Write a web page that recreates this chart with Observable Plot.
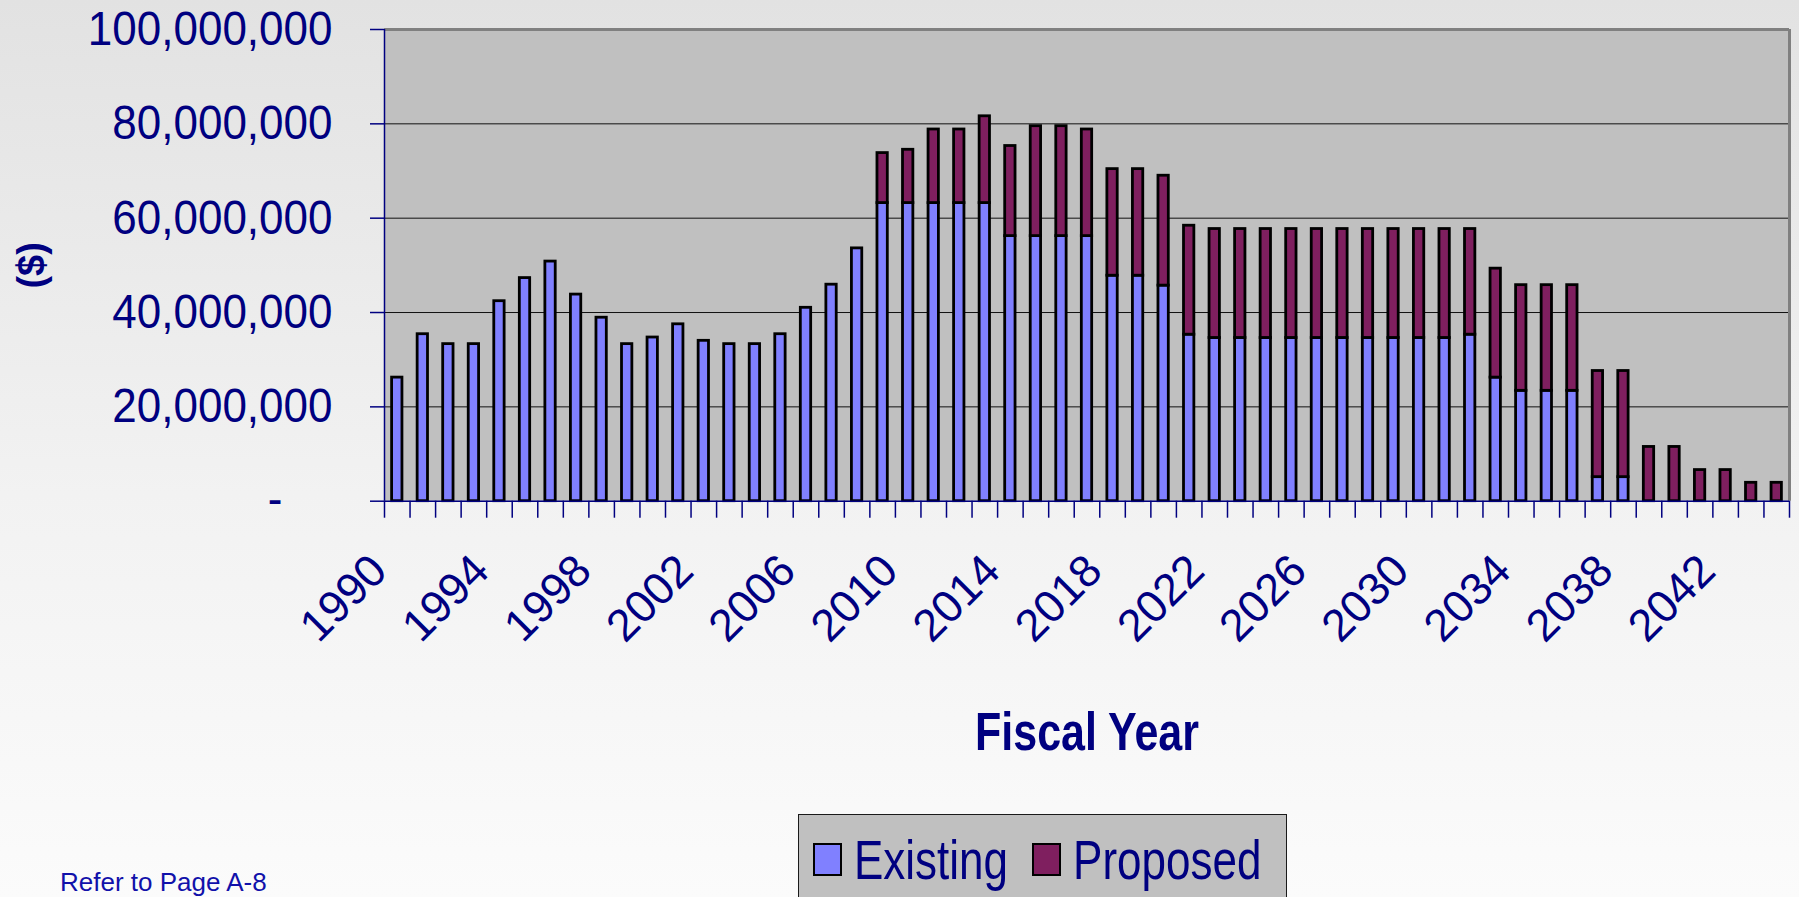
<!DOCTYPE html>
<html>
<head>
<meta charset="utf-8">
<script src="https://cdn.jsdelivr.net/npm/d3@7"></script>
<script src="https://cdn.jsdelivr.net/npm/@observablehq/plot@0.6"></script>
<style>
  html, body { margin: 0; padding: 0; width: 1799px; height: 897px; overflow: hidden; }
  body {
    position: relative;
    background: linear-gradient(to bottom, #e2e2e2 0%, #f2f2f2 55%, #fbfbfb 100%);
    font-family: "Liberation Sans", Arial, sans-serif;
  }
  #chart { position: absolute; left: 0; top: 0; }
  #legend {
    position: absolute; left: 798px; top: 814px; width: 489px; height: 140px;
    background: #c0c0c0; border: 1px solid #1a1a1a; box-sizing: border-box;
    display: flex; align-items: flex-start; padding: 28px 0 0 14px;
  }
  #legend .sw { flex: none; width: 29px; height: 33px; box-sizing: border-box; border: 2.5px solid #000; margin-right: 12px; }
  #legend .lt {
    flex: none; font-size: 44px; line-height: 33px; height: 33px; color: #000080;
    margin-right: 24px; white-space: nowrap; display: inline-block;
    transform: scaleY(1.25); transform-origin: 50% 50%;
  }
  #note { position: absolute; left: 60px; top: 869px; font-size: 26px; line-height: 26px; color: #1111aa; white-space: nowrap; }
</style>
</head>
<body>
<div id="chart"></div>
<div id="legend"></div>
<div id="note"></div>
<script>
// ---- data ----
const years = [1990, 1991, 1992, 1993, 1994, 1995, 1996, 1997, 1998, 1999,
  2000, 2001, 2002, 2003, 2004, 2005, 2006, 2007, 2008, 2009,
  2010, 2011, 2012, 2013, 2014, 2015, 2016, 2017, 2018, 2019,
  2020, 2021, 2022, 2023, 2024, 2025, 2026, 2027, 2028, 2029,
  2030, 2031, 2032, 2033, 2034, 2035, 2036, 2037, 2038, 2039,
  2040, 2041, 2042, 2043, 2044];
const labelYears = [1990, 1994, 1998, 2002, 2006, 2010, 2014, 2018, 2022, 2026, 2030, 2034, 2038, 2042];
const seriesNames = ["Existing", "Proposed"];
const seriesColors = ["#8080ff", "#7f1f5f"];
const existing = [26200000, 35400000, 33300000, 33300000, 42400000, 47300000, 50800000, 43800000, 38900000, 33300000,
  34700000, 37500000, 34000000, 33300000, 33300000, 35400000, 41000000, 45900000, 53600000, 63200000,
  63200000, 63200000, 63200000, 63200000, 56200000, 56200000, 56200000, 56200000, 47800000, 47800000,
  45700000, 35300000, 34600000, 34600000, 34600000, 34600000, 34600000, 34600000, 34600000, 34600000,
  34600000, 34600000, 35300000, 26200000, 23400000, 23400000, 23400000, 5100000, 5100000, 0,
  0, 0, 0, 0, 0];
const proposed = [0, 0, 0, 0, 0, 0, 0, 0, 0, 0,
  0, 0, 0, 0, 0, 0, 0, 0, 0, 10600000,
  11300000, 15600000, 15600000, 18400000, 19100000, 23300000, 23300000, 22600000, 22600000, 22600000,
  23300000, 23100000, 23100000, 23100000, 23100000, 23100000, 23100000, 23100000, 23100000, 23100000,
  23100000, 23100000, 22400000, 23100000, 22400000, 22400000, 22400000, 22500000, 22500000, 11500000,
  11500000, 6600000, 6600000, 3900000, 3900000];
const yTicks = [0, 20000000, 40000000, 60000000, 80000000, 100000000];
const gridTicks = [20000000, 40000000, 60000000, 80000000];
const yTitle = "($)";
const xTitle = "Fiscal Year";
const noteText = "Refer to Page A-8";

// ---- layout ----
const W = 1799, H = 790;
const mL = 384, mR = 10, mT = 29, mB = 289.3;
const step = (W - mL - mR) / years.length;
const navy = "#000080";
const font = "'Liberation Sans', Arial, sans-serif";

const rows = [];
years.forEach((yr, i) => { if (existing[i] > 0) rows.push({year: yr, series: seriesNames[0], value: existing[i]}); });
years.forEach((yr, i) => { if (proposed[i] > 0) rows.push({year: yr, series: seriesNames[1], value: proposed[i]}); });

const svg = Plot.plot({
  width: W, height: H,
  marginLeft: mL, marginRight: mR, marginTop: mT, marginBottom: mB,
  style: {background: "transparent", fontFamily: font, overflow: "visible"},
  x: {type: "band", domain: years, padding: 0, axis: null},
  y: {domain: [0, 100000000], axis: null},
  color: {domain: seriesNames, range: seriesColors},
  marks: [
    Plot.frame({fill: "#c0c0c0", stroke: null}),
    Plot.ruleY(gridTicks, {stroke: "#111", strokeWidth: 1}),
    Plot.barY(rows, {x: "year", y: "value", fill: "series", stroke: "#000", strokeWidth: 2.8, insetLeft: 7.6, insetRight: 7.6}),
    Plot.ruleY([100000000], {stroke: "#808080", strokeWidth: 3}),
    Plot.ruleX([years[years.length - 1]], {dx: step / 2, y1: 0, y2: 100000000, stroke: "#808080", strokeWidth: 3}),
    Plot.ruleX([years[0]], {dx: -step / 2, y1: 0, y2: 100000000, stroke: navy, strokeWidth: 1.5}),
    Plot.ruleY([0], {stroke: navy, strokeWidth: 1.5}),
    // category boundary ticks
    Plot.axisX(years, {tickSize: 17, tickFormat: () => "", dx: -step / 2, color: navy, strokeWidth: 1.5, label: null}),
    Plot.axisX([years[years.length - 1]], {tickSize: 17, tickFormat: () => "", dx: step / 2, color: navy, strokeWidth: 1.5, label: null}),
    // y ticks and labels
    Plot.axisY(yTicks, {tickSize: 14, tickFormat: () => "", color: navy, strokeWidth: 1.5, label: null}),
    Plot.axisY(yTicks.slice(1), {tickSize: 0, tickPadding: 52, tickFormat: d3.format(","), fontSize: 44, color: navy, dy: 0, label: null}),
    Plot.axisY([yTicks[0]], {tickSize: 0, tickPadding: 102, tickFormat: () => "-", fontSize: 44, color: navy, dy: -2, label: null}),
    // rotated year labels
    Plot.text(labelYears, {x: d => d, text: d => String(d), frameAnchor: "bottom", rotate: -45, textAnchor: "end", lineAnchor: "bottom", dx: -8, dy: 72, fontSize: 45, fill: navy}),
    // axis titles
    Plot.text([yTitle], {text: d => d, frameAnchor: "left", textAnchor: "middle", rotate: -90, dx: -353, dy: 0, fontSize: 38, fontWeight: "bold", fill: navy}),
    Plot.text([xTitle], {text: d => d, frameAnchor: "bottom", lineAnchor: "bottom", dy: 249, fontSize: 43, fontWeight: "bold", fill: navy})
  ]
});
document.getElementById("chart").append(svg);

function stretch(nodes, sy) {
  nodes.forEach(n => {
    const t = n.getAttribute("transform");
    if (t) n.setAttribute("transform", t + " scale(1," + sy + ")");
  });
}
stretch([...svg.querySelectorAll('g[aria-label="y-axis tick label"] text')], 1.1);
stretch([...svg.querySelectorAll("text")].filter(t => t.textContent === xTitle), 1.25);

// legend
const legend = document.getElementById("legend");
seriesNames.forEach((name, i) => {
  const sw = document.createElement("span");
  sw.className = "sw";
  sw.style.background = seriesColors[i];
  const lt = document.createElement("span");
  lt.className = "lt";
  lt.textContent = name;
  legend.append(sw, lt);
});
document.getElementById("note").textContent = noteText;
</script>
</body>
</html>
